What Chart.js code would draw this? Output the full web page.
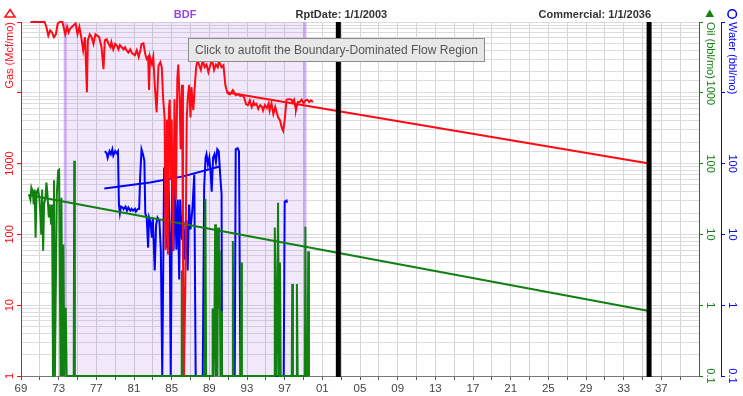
<!DOCTYPE html>
<html>
<head>
<meta charset="utf-8">
<script src="https://cdn.jsdelivr.net/npm/chart.js@4"></script>
<style>
  html, body { margin: 0; padding: 0; background: #fff; }
</style>
</head>
<body>
<canvas id="prodChart" width="743" height="396"></canvas>
<script>
// production history (decimal years)
const gasYears = [1970.0,1971.5,1971.7,1971.9,1972.1,1972.3,1972.5,1972.7,1972.9,1973.1,1973.4,1973.7,1973.9,1974.05,1974.2,1974.4,1974.8,1975.0,1975.2,1975.4,1975.6,1975.8,1976.0,1976.1,1976.3,1976.5,1976.7,1976.9,1977.3,1977.55,1977.76,1977.9,1978.1,1978.3,1978.5,1978.6,1978.8,1979.0,1979.2,1979.35,1979.5,1979.7,1979.9,1980.05,1980.2,1980.4,1980.6,1980.8,1981.1,1981.3,1981.5,1981.7,1981.8,1982.0,1982.2,1982.35,1982.5,1982.6,1982.7,1982.9,1983.05,1983.2,1983.4,1983.6,1983.8,1983.95,1984.1,1984.25,1984.35,1984.5,1984.6,1984.7,1984.8,1984.9,1985.0,1985.15,1985.3,1985.45,1985.6,1985.7,1985.85,1985.95,1986.1,1986.2,1986.3,1986.45,1986.6,1986.7,1986.85,1987.0,1987.1,1987.3,1987.45,1987.6,1987.75,1987.9,1988.1,1988.3,1988.5,1988.7,1988.9,1989.1,1989.3,1989.5,1989.7,1989.9,1990.0,1990.3,1990.5,1990.7,1990.8,1991.0,1991.2,1991.5,1991.8,1992.1,1992.3,1992.5,1992.7,1992.9,1993.1,1993.3,1993.5,1993.7,1993.8,1994.0,1994.2,1994.4,1994.6,1994.7,1994.9,1995.1,1995.3,1995.4,1995.6,1995.8,1996.0,1996.15,1996.3,1996.5,1996.7,1996.85,1997.0,1997.2,1997.35,1997.5,1997.7,1997.85,1998.0,1998.1,1998.2,1998.4,1998.6,1998.8,1999.0,1999.2,1999.4,1999.6,1999.8,2000.0];
const gasValues = [100000,100000,85000,64000,76000,71000,61000,67000,95000,100000,100000,67000,85000,71000,80000,85000,95000,67000,85000,61000,40000,61000,10200,55000,67000,61000,49000,67000,61000,44000,21600,55000,57000,49000,44000,52000,41000,49000,46000,41000,47000,44000,41000,44000,40000,37000,41000,36000,34000,40000,32000,41000,49000,50000,35000,30000,32000,11000,32000,25500,32000,13200,5300,24000,27000,23000,8000,4500,60,4200,52,5900,8000,600,4200,60,8100,310,15600,25000,8100,1590,13000,60,1,19,4200,8000,13000,4500,12000,5700,12000,23000,29000,25000,21000,29000,23000,25000,19500,24500,29000,21000,25000,23000,28000,23000,24500,13000,11200,9700,9500,10900,9300,9500,9000,9300,8500,6900,6700,7800,6300,7400,6700,7000,5900,6700,6300,5600,6700,6100,7100,5600,7100,5000,6300,5300,4500,4100,3200,2900,4100,8000,8100,8100,8000,7400,8000,6700,5700,7400,7400,8000,7100,7800,8000,7400,7800,7400];

const oilYears = [1969.85,1970.0,1970.1,1970.25,1970.35,1970.45,1970.55,1970.65,1970.8,1970.95,1971.05,1971.15,1971.25,1971.35,1971.45,1971.6,1971.7,1971.8,1971.95,1972.05,1972.2,1972.3,1972.4,1972.5,1972.6,1972.8,1972.95,1973.05,1973.2,1973.3,1973.4,1973.5,1973.6,1973.75,1973.85,1974.6,1974.65,1974.72,1986.0,1986.07,1986.14,1988.5,1988.58,1988.66,1989.3,1989.35,1989.45,1989.55,1989.62,1989.7,1989.78,1989.86,1989.94,1990.02,1990.1,1990.18,1990.26,1990.34,1991.45,1991.5,1991.56,1992.35,1992.4,1992.46,1995.9,1995.95,1996.05,1996.15,1996.3,1996.4,1996.5,1996.58,1997.75,1997.8,1997.88,1998.25,1998.3,1998.38,1999.15,1999.2,1999.27,1999.45,1999.5,1999.58];
const oilValues = [36.5,31,46,40,26.5,43,9,39,43,33,19.3,9.9,43,5.9,26.5,33,54,39,17.3,26.5,13.7,26.5,0.1,58,0.1,36.5,80,82,0.1,33,0.1,7.2,0.1,0.92,0.1,0.1,110,0.1,0.1,3.1,0.1,0.1,32,0.1,0.1,0.9,0.1,0.9,13.9,0.1,11.3,0.1,12.5,0.9,5.9,0.1,0.83,0.1,0.1,8.1,0.1,0.1,4,0.1,0.1,12.5,1,0.1,28,0.1,4,0.1,0.1,2,0.1,0.1,2,0.1,0.1,12.8,0.1,0.1,5.8,0.1];

const waterYears = [1977.9,1978.1,1978.2,1978.4,1978.55,1978.7,1978.8,1979.0,1979.15,1979.3,1979.4,1979.5,1979.6,1979.8,1979.9,1980.1,1980.25,1980.4,1980.6,1980.75,1980.9,1981.1,1981.2,1981.4,1981.55,1981.65,1981.8,1981.95,1982.1,1982.2,1982.35,1982.5,1982.6,1982.75,1982.9,1983.0,1983.2,1983.35,1983.5,1983.7,1983.85,1984.0,1984.2,1984.35,1984.5,1984.65,1984.8,1984.9,1985.05,1985.2,1985.35,1985.5,1985.65,1985.8,1985.9,1986.1,1986.25,1986.4,1986.55,1986.7,1986.85,1987.0,1987.2,1987.4,1987.55,1988.3,1988.45,1988.6,1988.7,1988.85,1989.0,1989.15,1989.25,1989.4,1989.55,1989.7,1989.85,1990.0,1990.15,1990.3,1990.35,1991.7,1991.8,1992.0,1992.15,1992.3,1996.9,1997.0,1997.2,1997.25];
const waterValues = [150,140,121,150,136,159,130,150,140,150,26.5,20,24.7,24,22.7,24.7,21.6,24,21.6,23,21.6,23,21,22.7,23,64,159,136,109,19.7,17.3,6.5,17.3,15,9,17.3,3.1,13.7,17.3,15.5,5.9,0.1,88,41,6.5,64,8.1,0.1,64,5.9,51,6.1,31,2.3,31,8.4,15.5,4.4,16,3.1,26.5,11.8,22.7,70,0.1,0.1,46,121,136,97,121,70,40,121,136,105,159,149,70,37,0.1,0.1,159,165,149,0.1,0.1,29,30,28];

// decline forecasts
const gasFcYears = [1990.8, 2035.7];
const gasFcValues = [10200, 1000];
const oilFcYears = [1969.8, 2035.7];
const oilFcValues = [36, 0.83];
const waterFcYears = [1977.85, 1982.7, 1986.2, 1990.1];
const waterFcValues = [44.6, 54, 66, 91];

// markers and labels
const bdfRange = [1973.7, 1999.15];
const rptYear = 2002.7;
const commercialYear = 2035.7;
const yearLabels = ['69','73','77','81','85','89','93','97','01','05','09','13','17','21','25','29','33','37'];
const gasTickLabels = [1, 10, 100, 1000];
const oilTickLabels = [0.1, 1, 10, 100, 1000];
const waterTickLabels = [0.1, 1, 10, 100];

const RED = '#ff0a14', GREEN = '#108010', BLUE = '#0000ff';
const FONT = '"Liberation Sans", Arial, sans-serif';

const isDecade = v => Math.abs(Math.log10(v) - Math.round(Math.log10(v))) < 1e-6;

function series(label, xs, ys, color, axis, order) {
  return {
    label,
    data: xs.map((x, i) => ({ x, y: ys[i] })),
    borderColor: color,
    backgroundColor: color,
    borderWidth: 2,
    pointRadius: 0,
    tension: 0,
    yAxisID: axis,
    order,
    clip: 3
  };
}

function drawYLabels(ctx, scale, values, color, x, angle) {
  ctx.save();
  ctx.fillStyle = color;
  ctx.font = '11px ' + FONT;
  ctx.textAlign = 'center';
  ctx.textBaseline = 'middle';
  values.forEach(v => {
    const y = scale.getPixelForValue(v);
    ctx.save();
    ctx.translate(x, y);
    ctx.rotate(angle);
    ctx.fillText(String(v), 0, 0);
    ctx.restore();
  });
  ctx.restore();
}

function drawTitle(ctx, text, color, x, y, angle, align) {
  ctx.save();
  ctx.fillStyle = color;
  ctx.font = '11px ' + FONT;
  ctx.textAlign = align;
  ctx.textBaseline = 'middle';
  ctx.translate(x, y);
  ctx.rotate(angle);
  ctx.fillText(text, 0, 0);
  ctx.restore();
}

const decor = {
  id: 'decor',
  beforeDatasetsDraw(chart) {
    const { ctx, chartArea: a, scales: { x } } = chart;
    const x1 = x.getPixelForValue(bdfRange[0]);
    const x2 = x.getPixelForValue(bdfRange[1]);
    ctx.save();
    ctx.fillStyle = 'rgba(160,110,230,0.15)';
    ctx.fillRect(x1, a.top, x2 - x1, a.bottom - a.top);
    ctx.strokeStyle = 'rgba(170,120,235,0.55)';
    ctx.lineWidth = 3;
    [x1, x2].forEach(px => {
      ctx.beginPath();
      ctx.moveTo(px, a.top);
      ctx.lineTo(px, a.bottom);
      ctx.stroke();
    });
    ctx.restore();
  },
  afterDatasetsDraw(chart) {
    const { ctx, chartArea: a, scales: { x } } = chart;
    ctx.save();
    ctx.strokeStyle = '#000';
    ctx.lineWidth = 5;
    [rptYear, commercialYear].forEach(yr => {
      const px = x.getPixelForValue(yr);
      ctx.beginPath();
      ctx.moveTo(px, a.top);
      ctx.lineTo(px, a.bottom + 1);
      ctx.stroke();
    });
    ctx.restore();
  },
  afterDraw(chart) {
    const { ctx, chartArea: a, scales } = chart;
    const x = scales.x;

    // top captions
    ctx.save();
    ctx.font = 'bold 11px ' + FONT;
    ctx.textBaseline = 'alphabetic';
    ctx.textAlign = 'center';
    ctx.fillStyle = '#9646e6';
    ctx.fillText('BDF', (x.getPixelForValue(bdfRange[0]) + x.getPixelForValue(bdfRange[1])) / 2, 18);
    ctx.fillStyle = '#333';
    ctx.fillText('RptDate: 1/1/2003', x.getPixelForValue(rptYear) + 3, 18);
    ctx.textAlign = 'right';
    ctx.fillText('Commercial: 1/1/2036', x.getPixelForValue(commercialYear) + 2, 18);
    ctx.restore();

    // y tick labels
    drawYLabels(ctx, scales.gas, gasTickLabels, RED, scales.gas.right - 11.5, -Math.PI / 2);
    drawYLabels(ctx, scales.oil, oilTickLabels, GREEN, scales.oil.left + 11.5, Math.PI / 2);
    drawYLabels(ctx, scales.water, waterTickLabels, BLUE, scales.water.left + 10.7, Math.PI / 2);

    // axis titles
    drawTitle(ctx, 'Gas (Mcf/mo)', RED, scales.gas.right - 11.5, a.top, -Math.PI / 2, 'right');
    drawTitle(ctx, 'Oil (bbl/mo)', GREEN, scales.oil.left + 11.5, a.top, Math.PI / 2, 'left');
    drawTitle(ctx, 'Water (bbl/mo)', BLUE, scales.water.left + 10.7, a.top, Math.PI / 2, 'left');

    // legend symbols
    ctx.save();
    ctx.lineWidth = 1.5;
    ctx.strokeStyle = RED;
    ctx.beginPath();
    ctx.moveTo(10, 9.5); ctx.lineTo(15, 17); ctx.lineTo(5, 17); ctx.closePath();
    ctx.stroke();
    ctx.fillStyle = GREEN;
    ctx.beginPath();
    ctx.moveTo(709.7, 9.5); ctx.lineTo(714, 17); ctx.lineTo(705.4, 17); ctx.closePath();
    ctx.fill();
    ctx.strokeStyle = BLUE;
    ctx.beginPath();
    ctx.arc(732.2, 14, 4.3, 0, Math.PI * 2);
    ctx.stroke();
    ctx.restore();

    // hint box
    ctx.save();
    ctx.fillStyle = '#e8e8e8';
    ctx.strokeStyle = '#8c8c8c';
    ctx.lineWidth = 1;
    ctx.fillRect(188.5, 38.5, 296, 23);
    ctx.strokeRect(188.5, 38.5, 296, 23);
    const hint = 'Click to autofit the Boundary-Dominated Flow Region';
    ctx.font = '12px ' + FONT;
    const size = 12 * 283 / ctx.measureText(hint).width;
    ctx.font = size.toFixed(2) + 'px ' + FONT;
    ctx.fillStyle = '#555';
    ctx.textBaseline = 'middle';
    ctx.fillText(hint, 195, 50.5);
    ctx.restore();
  }
};

const logTickColor = color => ctx => (ctx.tick && isDecade(ctx.tick.value)) ? color : 'rgba(0,0,0,0)';

new Chart(document.getElementById('prodChart').getContext('2d'), {
  type: 'line',
  data: {
    datasets: [
      series('Gas', gasYears, gasValues, RED, 'gas', 0),
      series('Gas forecast', gasFcYears, gasFcValues, RED, 'gas', 0),
      series('Oil', oilYears, oilValues, GREEN, 'oil', 1),
      series('Oil forecast', oilFcYears, oilFcValues, GREEN, 'oil', 1),
      series('Water', waterYears, waterValues, BLUE, 'water', 2),
      series('Water forecast', waterFcYears, waterFcValues, BLUE, 'water', 2)
    ]
  },
  options: {
    responsive: false,
    animation: false,
    devicePixelRatio: 1,
    layout: { padding: { top: 22, left: 0, right: 0, bottom: 0 } },
    plugins: { legend: { display: false }, tooltip: { enabled: false } },
    scales: {
      x: {
        type: 'linear',
        min: 1969,
        max: 2041,
        ticks: {
          stepSize: 2,
          autoSkip: false,
          maxRotation: 0,
          color: '#444',
          padding: 2,
          font: { size: 11.5, family: FONT },
          callback: v => ((v - 1969) % 4 === 0 ? yearLabels[(v - 1969) / 4] : '')
        },
        grid: { color: '#d4d4d4', tickColor: '#555', tickLength: 4 },
        border: { color: '#777' },
        afterFit: s => { s.height = 20; }
      },
      gas: {
        type: 'logarithmic',
        position: 'left',
        min: 1,
        max: 100000,
        ticks: { display: false },
        grid: { color: '#dcdcdc', tickColor: logTickColor(RED), tickLength: 4 },
        border: { color: RED },
        afterFit: s => { s.width = 21; }
      },
      oil: {
        type: 'logarithmic',
        position: 'right',
        weight: 0,
        min: 0.1,
        max: 10000,
        ticks: { display: false },
        grid: { drawOnChartArea: false, tickColor: logTickColor(GREEN), tickLength: 4 },
        border: { color: GREEN },
        afterFit: s => { s.width = 22; }
      },
      water: {
        type: 'logarithmic',
        position: 'right',
        weight: 1,
        min: 0.1,
        max: 10000,
        ticks: { display: false },
        grid: { drawOnChartArea: false, tickColor: logTickColor(BLUE), tickLength: 4 },
        border: { color: BLUE },
        afterFit: s => { s.width = 22; }
      }
    }
  },
  plugins: [decor]
});
</script>
</body>
</html>
